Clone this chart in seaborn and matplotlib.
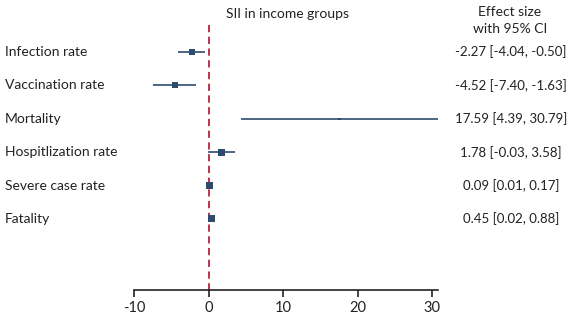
import numpy as np
import pandas as pd
import matplotlib
matplotlib.use("Agg")
import matplotlib.pyplot as plt
import matplotlib.transforms as mtransforms
import seaborn as sns

# ---------------- DATA ----------------
outcomes = ['Infection rate', 'Vaccination rate', 'Mortality',
            'Hospitlization rate', 'Severe case rate', 'Fatality']
effect = [-2.27, -4.52, 17.59, 1.78, 0.09, 0.45]
ci_low = [-4.04, -7.40, 4.39, -0.03, 0.01, 0.02]
ci_high = [-0.50, -1.63, 30.79, 3.58, 0.17, 0.88]
marker_px = [6, 6, 2.5, 7, 7, 7]   # weight boxes as seen in the figure
xticks = [-10, 0, 10, 20, 30]

df = pd.DataFrame({'outcome': outcomes, 'effect': effect,
                   'lo': ci_low, 'hi': ci_high, 'w': marker_px})
df['row'] = np.arange(len(df))
df['label'] = [f"{e:.2f} [{l:.2f}, {h:.2f}]" for e, l, h in zip(effect, ci_low, ci_high)]

# ---------------- STYLE ----------------
sns.set_style("white")
plt.rcParams['font.family'] = ['Lato', 'DejaVu Sans']
navy = '#2c4b6e'
red = '#b5243c'
ink = '#222222'

fig = plt.figure(figsize=(5.68, 3.21), dpi=100)
ax = fig.add_axes([134 / 568, 31 / 321, (438 - 134) / 568, 290 / 321])

# CI lines
ax.hlines(df['row'], df['lo'], df['hi'], color=navy, lw=1.2, zorder=2)
# point estimates
sizes = (df['w'] * 0.72) ** 2
sns.scatterplot(data=df, x='effect', y='row', marker='s', s=sizes, color=navy,
                edgecolor=navy, linewidth=0, legend=False, ax=ax, zorder=3)

ymax = 7.13
ax.vlines(0, -0.8, ymax, color=red, lw=1.3, linestyles=(0, (4, 2.5)), zorder=1)

ax.set_xlim(-10, 30.8)
ax.set_ylim(ymax, -1.56)
ax.set_xticks(xticks)
ax.set_xticklabels([str(t) for t in xticks], fontsize=10.5)
ax.set_yticks([])
ax.set_xlabel('')
ax.set_ylabel('')
sns.despine(ax=ax, left=True)
ax.spines['bottom'].set_color(ink)
ax.spines['bottom'].set_linewidth(1.2)
ax.tick_params(axis='x', direction='out', length=5, width=1.2, color=ink,
               bottom=True, pad=3, labelcolor=ink)

# labels and values
trans = mtransforms.blended_transform_factory(fig.transFigure, ax.transData)
for _, r in df.iterrows():
    ax.text(5 / 568, r['row'], r['outcome'], transform=trans, ha='left', va='center',
            fontsize=10, color=ink)
    ax.text(511 / 568, r['row'], r['label'], transform=trans, ha='center', va='center',
            fontsize=9.5, color=ink)

fig.text(287 / 568, 1 - 14 / 321, 'SII in income groups', ha='center', va='center',
         fontsize=10, color=ink)
fig.text(510 / 568, 1 - 12 / 321, 'Effect size', ha='center', va='center',
         fontsize=10, color=ink)
fig.text(510 / 568, 1 - 29 / 321, 'with 95% CI', ha='center', va='center',
         fontsize=10, color=ink)

fig.savefig('out.png', dpi=100, facecolor='white')
